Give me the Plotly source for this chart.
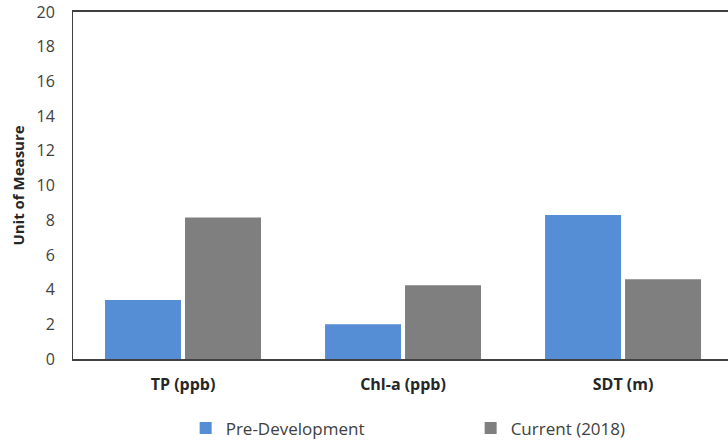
import plotly.graph_objects as go

categories = ["TP (ppb)", "Chl-a (ppb)", "SDT (m)"]
pre_development = [3.4, 2.0, 8.3]
current_2018 = [8.15, 4.25, 4.6]
y_ticks = [0, 2, 4, 6, 8, 10, 12, 14, 16, 18, 20]

BLUE = "#558ED5"
GRAY = "#7F7F7F"
TEXT = "#404040"
FONT = "Open Sans"

fig = go.Figure()
fig.add_trace(go.Bar(x=categories, y=pre_development, name="Pre-Development",
                     marker=dict(color=BLUE, line=dict(width=0))))
fig.add_trace(go.Bar(x=categories, y=current_2018, name="Current (2018)",
                     marker=dict(color=GRAY, line=dict(width=0))))

fig.update_layout(
    width=728, height=444,
    margin=dict(l=73, r=0, t=12, b=85, autoexpand=False),
    paper_bgcolor="white", plot_bgcolor="white",
    barmode="group", bargap=0.273, bargroupgap=0.05,
    font=dict(family=FONT, color=TEXT, size=16),
    showlegend=True,
    legend=dict(orientation="h", x=0.172, xanchor="left", y=-0.148, yanchor="top",
                font=dict(size=17, color=TEXT), entrywidth=240,
                itemwidth=30, bgcolor="rgba(0,0,0,0)"),
    xaxis=dict(
        range=[-0.5, 2.477], showline=True, linecolor="#404040", linewidth=1.5,
        mirror=True, ticks="", showgrid=False, ticklabelstandoff=10,
        tickfont=dict(family=FONT, size=16, color="#262626", weight="bold"),
    ),
    yaxis=dict(
        range=[0, 20], tickvals=y_ticks, showline=True, linecolor="#404040",
        linewidth=1, ticks="", showgrid=False, zeroline=False,
        ticklabelstandoff=14,
        tickfont=dict(family=FONT, size=16, color=TEXT),
        title=dict(text="Unit of Measure", standoff=8,
                   font=dict(family=FONT, size=15, color="#262626", weight="bold")),
    ),
)

fig.write_html("out.html")
